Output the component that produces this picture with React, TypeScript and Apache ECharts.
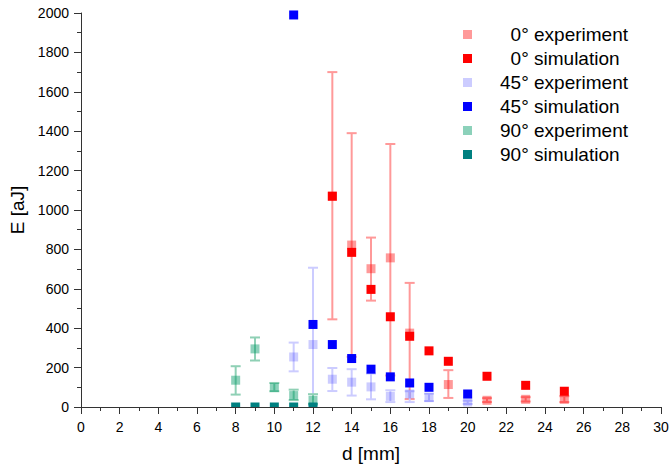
import React, { useEffect, useRef } from "react";
import * as echarts from "echarts";

const FONT = "Liberation Sans, Arial, sans-serif";

// 0° experiment
const d0Exp = [13, 14, 15, 16, 17, 19, 21, 23, 25];
const e0Exp = [1070, 822, 702, 757, 375, 114, 34, 39, 39];
const e0Lo = [445, 255, 540, 160, 40, 46, 25, 28, 25];
const e0Hi = [1700, 1390, 860, 1335, 630, 187, 45, 50, 55];
// 0° simulation
const d0Sim = [13, 14, 15, 16, 17, 18, 19, 21, 23, 25];
const e0Sim = [1070, 785, 597, 458, 359, 285, 232, 156, 110, 80];
// 45° experiment
const d45Exp = [11, 12, 13, 14, 15, 16, 17, 18, 20];
const e45Exp = [254, 317, 141, 126, 102, 54, 66, 48, 25];
const e45Lo = [181, 10, 81, 58, 39, 25, 25, 30, 15];
const e45Hi = [327, 707, 198, 192, 170, 85, 80, 68, 32];
// 45° simulation
const d45Sim = [11, 12, 13, 14, 15, 16, 17, 18, 20];
const e45Sim = [1990, 419, 317, 246, 192, 153, 122, 100, 66];
// 90° experiment
const d90Exp = [8, 9, 10, 11, 12];
const e90Exp = [136, 295, 99, 58, 34];
const e90Lo = [63, 236, 80, 35, 15];
const e90Hi = [207, 353, 122, 88, 65];
// 90° simulation
const d90Sim = [8, 9, 10, 11, 12];
const e90Sim = [0, 0, 0, 0, 0];

const names = [
  "0° experiment",
  "0° simulation",
  "45° experiment",
  "45° simulation",
  "90° experiment",
  "90° simulation",
];

const pts = (xs: number[], ys: number[]) => xs.map((x, i) => [x, ys[i]]);
const errs = (xs: number[], lo: number[], hi: number[]) =>
  xs.map((x, i) => [x, lo[i], hi[i]]);

function errorSeries(name: string, data: number[][], color: string) {
  return {
    type: "custom",
    name,
    z: 1,
    data,
    encode: { x: 0, y: [1, 2] },
    renderItem: (params: any, api: any) => {
      const x = api.value(0);
      const pLo = api.coord([x, api.value(1)]);
      const pHi = api.coord([x, api.value(2)]);
      const hw = 5;
      const style = { stroke: color, lineWidth: 2 };
      return {
        type: "group",
        children: [
          { type: "line", shape: { x1: pLo[0], y1: pLo[1], x2: pHi[0], y2: pHi[1] }, style },
          { type: "line", shape: { x1: pLo[0] - hw, y1: pLo[1], x2: pLo[0] + hw, y2: pLo[1] }, style },
          { type: "line", shape: { x1: pHi[0] - hw, y1: pHi[1], x2: pHi[0] + hw, y2: pHi[1] }, style },
        ],
      };
    },
  };
}

function scatter(name: string, data: number[][], color: string, extra: any = {}) {
  return {
    type: "scatter",
    name,
    z: 2,
    symbol: "rect",
    symbolSize: 9,
    clip: false,
    itemStyle: { color, opacity: 1 },
    data,
    ...extra,
  };
}

export default function App() {
  const ref = useRef<HTMLDivElement>(null);
  useEffect(() => {
    if (!ref.current) return;
    const chart = echarts.init(ref.current, null, { renderer: "svg" });
    const axisLine = { lineStyle: { color: "#333", width: 1 } };
    chart.setOption({
      animation: false,
      textStyle: { fontFamily: FONT },
      grid: { left: 81, right: 11, top: 13, bottom: 63, outerBoundsMode: "none", containLabel: false },
      legend: {
        data: names,
        orient: "vertical",
        left: 458,
        top: 20,
        itemWidth: 9,
        itemHeight: 9,
        itemGap: 5,
        icon: "rect",
        formatter: (n: string) => (n.startsWith("0") ? "\u2007" + n : n),
        textStyle: { fontSize: 19, fontFamily: FONT, color: "#000", padding: [0, 0, 0, 23] },
      },
      xAxis: {
        type: "value",
        min: 0,
        max: 30,
        interval: 2,
        name: "d [mm]",
        nameLocation: "middle",
        nameGap: 37,
        nameTextStyle: { fontSize: 19, color: "#000", fontFamily: FONT },
        axisLine,
        axisTick: { length: 7, lineStyle: { color: "#333" } },
        minorTick: { show: true, splitNumber: 2, length: 4, lineStyle: { color: "#333" } },
        splitLine: { show: false },
        axisLabel: { fontSize: 14, color: "#000", margin: 13, fontFamily: FONT, formatter: (v: number) => String(v) },
      },
      yAxis: {
        type: "value",
        min: 0,
        max: 2000,
        interval: 200,
        name: "E [aJ]",
        nameLocation: "middle",
        nameGap: 51,
        nameTextStyle: { fontSize: 19, color: "#000", fontFamily: FONT },
        axisLine: { show: true, ...axisLine },
        axisTick: { show: true, length: 7, lineStyle: { color: "#333" } },
        minorTick: { show: true, splitNumber: 2, length: 4, lineStyle: { color: "#333" } },
        splitLine: { show: false },
        axisLabel: { fontSize: 14, color: "#000", margin: 12, fontFamily: FONT, formatter: (v: number) => String(v) },
      },
      series: [
        scatter(names[0], pts(d0Exp, e0Exp), "rgba(255,0,0,0.4)"),
        scatter(names[1], pts(d0Sim, e0Sim), "#FF0000"),
        scatter(names[2], pts(d45Exp, e45Exp), "rgba(0,0,255,0.2)"),
        scatter(names[3], pts(d45Sim, e45Sim), "#0000FF"),
        scatter(names[4], pts(d90Exp, e90Exp), "rgba(0,153,102,0.45)"),
        scatter(names[5], pts(d90Sim, e90Sim), "#008080", {
          symbolSize: [9, 4.5],
          symbolOffset: [0, -2.25],
        }),
        errorSeries("err0", errs(d0Exp, e0Lo, e0Hi), "#FF9999"),
        errorSeries("err45", errs(d45Exp, e45Lo, e45Hi), "#CCCCFF"),
        errorSeries("err90", errs(d90Exp, e90Lo, e90Hi), "#8FD0B5"),
      ],
    });
    return () => chart.dispose();
  }, []);
  return (
    <div
      ref={ref}
      style={{ position: "fixed", left: 0, top: 0, width: 672, height: 470, background: "#fff" }}
    />
  );
}
